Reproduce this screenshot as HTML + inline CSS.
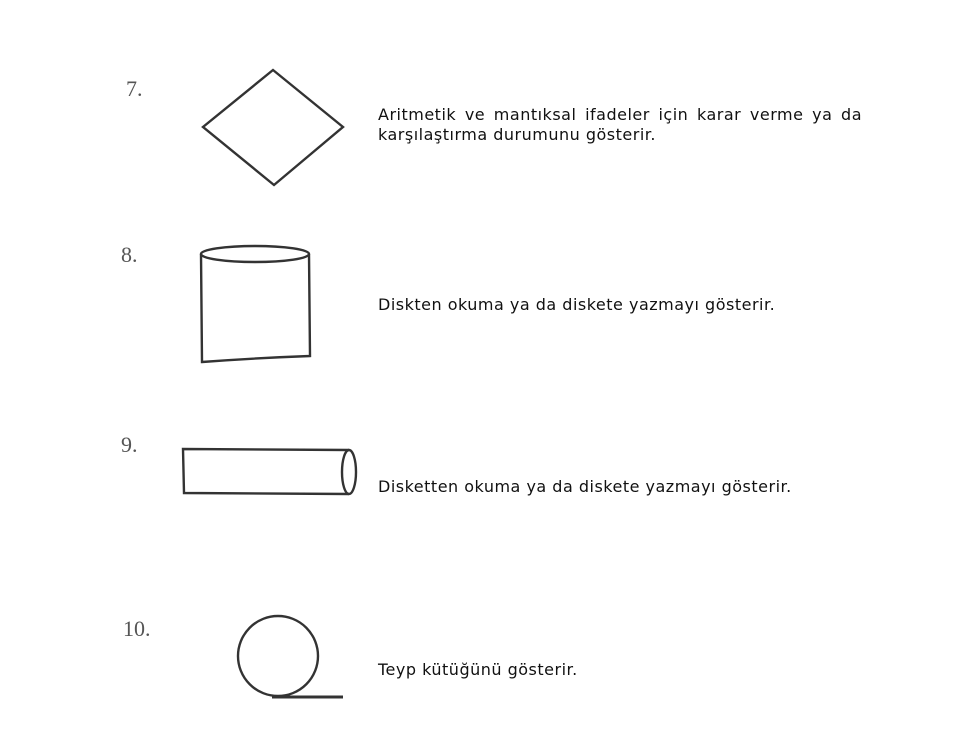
<!DOCTYPE html>
<html><head><meta charset="utf-8"><style>
body{margin:0;width:979px;height:745px;background:#fff;overflow:hidden;position:relative}
.t{position:absolute;left:378px;font-family:"DejaVu Sans","Liberation Sans",sans-serif;font-size:16px;letter-spacing:0.5px;color:#111;white-space:nowrap}
</style></head><body>
<svg width="979" height="745" style="position:absolute;left:0;top:0">
<g font-family="Liberation Serif,serif" font-size="22" fill="#555">
<text x="126" y="96">7.</text>
<text x="121" y="262">8.</text>
<text x="121" y="452">9.</text>
<text x="123" y="636">10.</text>
</g>
<g fill="none" stroke="#333" stroke-width="2.4">
<polygon points="273,70 343,127 274,185 203,127"/>
<g>
<ellipse cx="255" cy="254" rx="54" ry="8"/>
<path d="M201,254 L202,362 Q255,358 310,356 L309,254"/>
</g>
<g>
<path d="M349,450 L183,449 L184,493 L349,494"/>
<ellipse cx="349" cy="472" rx="7" ry="22"/>
</g>
<g>
<circle cx="278" cy="656" r="40"/>
<line x1="272" y1="697" x2="343" y2="697" stroke-width="3"/>
</g>
</g>
</svg>
<div class="t" style="top:105px;width:484px;white-space:normal;text-align:justify;text-align-last:left;line-height:20px">Aritmetik ve mantıksal ifadeler için karar verme ya da karşılaştırma durumunu gösterir.</div>
<div class="t" style="top:295px">Diskten okuma ya da diskete yazmayı gösterir.</div>
<div class="t" style="top:477px">Disketten okuma ya da diskete yazmayı gösterir.</div>
<div class="t" style="top:660px">Teyp kütüğünü gösterir.</div>
</body></html>
